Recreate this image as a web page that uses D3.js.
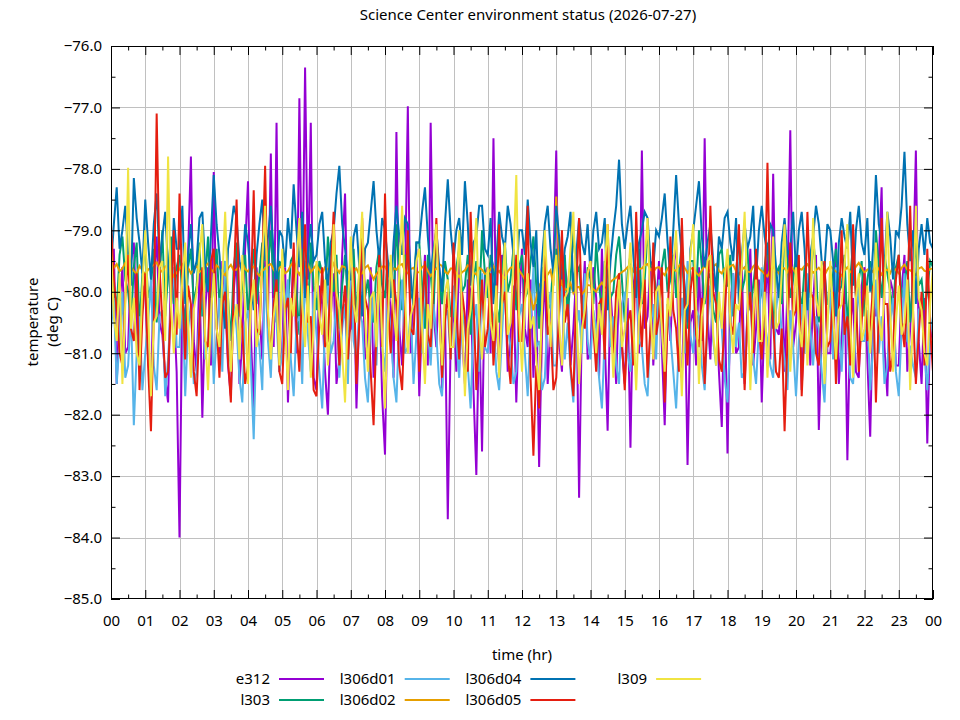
<!DOCTYPE html>
<html>
<head>
<meta charset="utf-8">
<script src="https://cdn.jsdelivr.net/npm/d3@7/dist/d3.min.js"></script>
<style>
  html, body { margin: 0; padding: 0; background: #fff; }
  svg { display: block; }
  text { font-family: "Noto Sans", "Open Sans", sans-serif; }
</style>
</head>
<body>
<svg id="chart" width="960" height="720"></svg>
<script>
// ---------- data (5-minute samples, 00:00 .. 24:00; one row per hour) ----------
const sampleMinutes = 5;
const hourLabels = ["00","01","02","03","04","05","06","07","08","09","10","11","12","13","14","15","16","17","18","19","20","21","22","23","00"];
const yTicks = [-85,-84,-83,-82,-81,-80,-79,-78,-77,-76];
const seriesNames = ["e312","l303","l306d01","l306d02","l306d04","l306d05","l309"];

const e312 = [
-80.4,-79.3,-81.5,-80.2,-79.6,-81.0,-80.9,-79.5,-79.2,-80.6,-81.2,-79.9,
-80.0,-81.1,-81.6,-79.8,-79.1,-80.5,-80.7,-81.4,-81.8,-79.6,-80.2,-81.3,
-84.0,-80.1,-80.5,-79.4,-77.8,-80.8,-81.3,-79.7,-82.05,-80.3,-79.6,-81.2,
-78.05,-80.6,-81.0,-79.5,-80.1,-81.2,-81.7,-80.0,-79.4,-81.5,-80.8,-79.3,
-78.2,-80.7,-81.9,-79.6,-80.3,-81.1,-79.5,-80.4,-77.75,-80.9,-77.25,-81.3,
-80.9,-79.6,-81.8,-80.5,-79.3,-81.0,-76.85,-80.2,-76.35,-79.8,-77.25,-81.4,
-81.6,-79.9,-80.2,-81.3,-82.0,-80.4,-79.7,-81.5,-81.1,-79.4,-78.4,-80.7,
-80.6,-79.5,-81.9,-80.3,-79.2,-81.1,-80.8,-79.6,-81.4,-80.5,-79.9,-81.7,
-82.65,-79.8,-80.3,-81.4,-77.4,-80.6,-81.2,-79.9,-76.98,-81.0,-80.0,-79.3,
-81.7,-80.4,-79.4,-81.2,-77.25,-80.3,-80.9,-79.6,-81.6,-80.2,-83.7,-80.8,
-80.2,-81.3,-79.1,-80.7,-81.5,-79.8,-80.0,-81.6,-82.98,-80.4,-82.6,-79.7,
-79.6,-81.0,-77.5,-80.5,-81.2,-79.4,-79.8,-81.3,-80.7,-79.9,-81.8,-80.3,
-79.3,-80.6,-80.9,-79.8,-81.4,-80.2,-82.85,-80.7,-79.7,-81.5,-80.5,-79.6,
-77.7,-80.8,-81.3,-79.6,-79.9,-81.2,-80.6,-79.7,-83.35,-80.4,-79.5,-81.1,
-81.0,-79.6,-80.1,-81.4,-79.3,-80.8,-82.26,-80.0,-80.7,-81.5,-79.8,-80.9,
-81.5,-80.1,-82.54,-79.9,-79.6,-81.0,-77.7,-80.6,-80.4,-79.5,-81.2,-80.3,
-79.5,-80.9,-82.17,-80.2,-80.8,-79.6,-79.2,-81.1,-81.4,-80.0,-82.82,-80.5,
-80.3,-81.2,-79.6,-80.8,-77.5,-80.4,-81.1,-79.7,-80.0,-81.3,-82.2,-79.9,
-82.63,-80.2,-79.7,-81.0,-80.9,-79.5,-81.5,-80.3,-79.3,-81.2,-80.6,-79.8,
-81.8,-80.4,-79.4,-81.1,-78.08,-80.6,-80.7,-79.5,-81.3,-80.0,-77.37,-80.9,
-80.5,-79.6,-81.6,-80.3,-79.8,-81.2,-80.2,-79.4,-82.25,-80.7,-79.5,-81.0,
-81.0,-80.3,-79.2,-81.5,-80.8,-79.7,-82.74,-80.5,-80.1,-81.3,-81.4,-79.9,
-79.6,-81.1,-82.36,-80.2,-80.4,-79.5,-78.3,-80.9,-81.7,-79.8,-80.0,-81.2,
-81.2,-80.0,-79.4,-81.3,-80.6,-79.7,-77.7,-80.8,-81.5,-80.1,-82.47,-80.6,
-80.8];

const l303 = [
-79.5,-79.9,-80.3,-79.4,-79.1,-79.8,-80.0,-80.5,-79.6,-79.2,-80.6,-79.7,
-79.2,-80.1,-79.9,-79.3,-80.5,-79.8,-79.0,-80.4,-79.7,-79.1,-80.2,-79.6,
-79.4,-80.0,-80.7,-79.6,-79.3,-80.2,-79.9,-79.2,-80.4,-79.8,-79.1,-80.3,
-79.8,-79.3,-80.2,-79.7,-79.5,-80.1,-80.8,-79.6,-79.2,-80.4,-79.9,-79.4,
-80.4,-79.8,-79.3,-80.2,-79.7,-79.2,-80.1,-79.6,-79.0,-79.9,-80.5,-79.5,
-79.6,-80.3,-80.2,-79.5,-79.4,-80.0,-80.7,-79.3,-79.8,-80.4,-79.2,-79.9,
-80.3,-79.5,-79.7,-80.2,-79.1,-79.8,-80.0,-79.4,-80.6,-79.9,-79.4,-80.1,
-79.9,-79.3,-80.4,-79.7,-79.2,-80.1,-79.8,-80.3,-80.5,-79.6,-79.3,-79.9,
-80.1,-79.5,-79.6,-80.2,-78.9,-79.7,-80.3,-79.4,-79.5,-80.1,-80.0,-79.2,
-79.2,-79.9,-80.6,-79.4,-79.7,-80.3,-79.1,-79.8,-80.2,-79.5,-79.8,-80.4,
-80.4,-79.6,-79.3,-80.0,-79.9,-79.4,-80.7,-79.8,-79.5,-80.2,-79.0,-79.7,
-80.1,-79.4,-79.6,-80.2,-80.5,-79.7,-79.2,-80.0,-79.8,-79.3,-80.3,-79.6,
-79.4,-80.1,-80.0,-79.5,-79.1,-79.9,-80.6,-79.6,-79.7,-80.3,-80.2,-79.5,
-79.3,-80.0,-79.9,-79.4,-80.4,-79.8,-79.0,-79.7,-79.6,-80.2,-80.5,-79.6,
-79.8,-80.2,-79.2,-79.9,-80.3,-79.5,-79.7,-80.1,-80.0,-79.4,-79.1,-79.8,
-80.5,-79.7,-79.4,-80.1,-79.9,-79.3,-80.2,-79.8,-79.0,-79.6,-79.6,-80.0,
-80.4,-79.6,-79.3,-80.0,-79.8,-79.4,-80.1,-79.7,-79.2,-80.3,-80.6,-79.5,
-79.5,-80.1,-79.0,-79.6,-80.2,-79.8,-79.7,-80.3,-80.5,-79.4,-79.3,-79.9,
-79.9,-79.4,-80.4,-79.7,-79.1,-80.0,-79.8,-79.3,-80.3,-79.9,-79.5,-80.2,
-80.0,-79.6,-79.2,-79.9,-80.6,-79.7,-79.6,-80.2,-79.0,-79.5,-80.1,-79.8,
-79.4,-79.9,-80.3,-79.6,-79.8,-80.1,-79.1,-79.7,-80.5,-79.9,-79.7,-80.2,
-80.2,-79.7,-79.3,-80.0,-79.9,-79.4,-80.6,-79.8,-79.2,-80.1,-79.8,-79.5,
-80.4,-79.8,-79.5,-80.2,-79.0,-79.6,-80.1,-79.4,-79.7,-80.0,-80.3,-79.6,
-79.4,-80.1,-79.9,-79.5,-80.5,-79.8,-79.2,-79.9,-79.8,-80.3,-80.0,-79.5,
-79.6];

const l306d01 = [
-80.6,-80.1,-81.5,-80.8,-80.0,-81.4,-81.2,-80.3,-82.17,-81.0,-80.4,-81.6,
-81.0,-80.5,-79.8,-81.2,-81.6,-80.4,-80.3,-81.7,-81.1,-80.2,-79.6,-80.9,
-80.9,-80.0,-81.7,-80.6,-80.2,-81.5,-81.3,-80.4,-79.7,-81.1,-80.8,-80.1,
-81.5,-80.7,-80.1,-81.3,-79.5,-80.9,-81.2,-80.2,-80.6,-81.4,-81.8,-80.5,
-80.3,-81.2,-82.4,-80.6,-80.9,-81.6,-79.6,-80.8,-81.4,-80.1,-80.5,-81.3,
-81.0,-80.2,-79.8,-81.1,-81.7,-80.5,-80.4,-81.5,-79.5,-80.7,-81.3,-80.0,
-80.7,-81.3,-81.9,-80.5,-79.9,-81.0,-80.8,-80.1,-81.4,-80.6,-80.2,-81.5,
-79.7,-80.8,-81.1,-80.3,-80.5,-81.4,-81.8,-80.6,-80.0,-81.2,-79.6,-80.9,
-81.3,-80.2,-80.6,-81.4,-81.8,-80.5,-79.8,-81.0,-80.9,-80.3,-81.5,-80.7,
-80.1,-81.0,-79.5,-80.6,-81.2,-80.2,-80.7,-81.5,-81.7,-80.4,-80.3,-81.1,
-79.9,-80.8,-81.4,-80.3,-80.6,-81.2,-81.9,-80.5,-80.2,-81.3,-79.7,-80.9,
-81.0,-80.2,-80.4,-81.3,-81.6,-80.7,-79.8,-80.6,-80.9,-81.5,-81.3,-80.4,
-80.2,-81.0,-81.7,-80.5,-79.6,-80.9,-80.8,-81.6,-81.4,-80.3,-80.0,-81.2,
-81.2,-80.4,-79.9,-81.1,-80.5,-81.3,-81.8,-80.6,-80.3,-81.0,-79.7,-80.8,
-81.1,-80.3,-80.6,-81.4,-81.9,-80.7,-79.8,-80.9,-80.4,-81.2,-81.5,-80.2,
-80.0,-81.0,-81.3,-80.4,-79.6,-80.8,-80.9,-81.5,-81.7,-80.6,-80.2,-81.1,
-79.8,-80.6,-81.4,-80.2,-80.7,-81.3,-81.9,-80.8,-80.1,-81.0,-79.5,-80.7,
-81.0,-80.3,-80.4,-81.2,-81.6,-80.5,-79.9,-80.8,-81.2,-80.2,-80.6,-81.4,
-81.8,-80.7,-79.7,-80.9,-80.5,-81.4,-81.3,-80.4,-80.0,-81.1,-81.5,-80.6,
-79.6,-80.5,-80.8,-81.2,-81.4,-80.3,-79.9,-80.7,-81.1,-81.6,-80.3,-80.9,
-81.7,-80.8,-80.2,-81.0,-79.7,-80.6,-81.2,-80.4,-80.6,-81.3,-81.8,-80.5,
-80.0,-81.1,-79.6,-80.5,-81.3,-80.2,-80.7,-81.4,-81.5,-80.6,-79.9,-80.8,
-80.8,-80.3,-81.6,-80.9,-79.8,-81.0,-80.4,-81.5,-81.2,-80.5,-80.1,-81.3,
-81.7,-80.6,-79.7,-80.8,-80.9,-81.2,-81.4,-80.3,-80.2,-81.0,-81.6,-80.7,
-80.4];

const l306d02 = [
-79.70,-79.61,-79.55,-79.67,-79.62,-79.53,-79.48,-79.60,-79.66,-79.71,-79.58,-79.65,
-79.72,-79.64,-79.60,-79.56,-79.52,-79.63,-79.68,-79.59,-79.57,-79.66,-79.75,-79.69,
-79.63,-79.56,-79.50,-79.61,-79.70,-79.64,-79.58,-79.67,-79.66,-79.59,-79.54,-79.62,
-79.69,-79.57,-79.61,-79.68,-79.73,-79.62,-79.56,-79.65,-79.64,-79.58,-79.52,-79.63,
-79.67,-79.60,-79.59,-79.69,-79.74,-79.66,-79.62,-79.57,-79.55,-79.64,-79.70,-79.61,
-79.58,-79.70,-79.66,-79.57,-79.51,-79.64,-79.72,-79.63,-79.60,-79.55,-79.68,-79.62,
-79.56,-79.65,-79.71,-79.60,-79.63,-79.68,-79.54,-79.62,-79.69,-79.58,-79.60,-79.67,
-79.75,-79.66,-79.62,-79.73,-79.70,-79.61,-79.57,-79.69,-79.80,-79.71,-79.66,-79.59,
-79.59,-79.68,-79.73,-79.62,-79.64,-79.57,-79.55,-79.66,-79.70,-79.63,-79.61,-79.69,
-79.68,-79.60,-79.57,-79.66,-79.74,-79.65,-79.63,-79.55,-79.58,-79.67,-79.71,-79.62,
-79.62,-79.70,-79.76,-79.68,-79.65,-79.57,-79.59,-79.69,-79.72,-79.61,-79.64,-79.71,
-79.70,-79.63,-79.58,-79.69,-79.66,-79.74,-79.78,-79.67,-79.61,-79.59,-79.55,-79.65,
-79.72,-79.80,-79.85,-80.05,-80.30,-80.10,-79.90,-79.83,-79.80,-79.72,-79.65,-79.90,
-78.45,-79.50,-79.88,-79.97,-79.95,-79.86,-80.02,-79.93,-79.92,-80.04,-79.98,-79.89,
-79.90,-79.96,-80.00,-79.91,-79.85,-79.93,-79.94,-79.84,-79.80,-79.77,-79.72,-79.68,
-79.65,-79.60,-79.58,-79.67,-79.70,-79.63,-79.62,-79.57,-79.55,-79.64,-79.68,-79.61,
-79.60,-79.68,-79.73,-79.62,-79.57,-79.64,-79.66,-79.58,-79.52,-79.61,-79.69,-79.63,
-79.61,-79.69,-79.74,-79.65,-79.58,-79.63,-79.67,-79.59,-79.55,-79.66,-79.70,-79.62,
-79.63,-79.58,-79.56,-79.66,-79.72,-79.64,-79.60,-79.67,-79.68,-79.59,-79.54,-79.62,
-79.66,-79.71,-79.75,-79.64,-79.59,-79.66,-79.70,-79.61,-79.62,-79.68,-79.57,-79.63,
-79.71,-79.62,-79.64,-79.58,-79.55,-79.63,-79.69,-79.65,-79.61,-79.67,-79.73,-79.64,
-79.58,-79.63,-79.67,-79.70,-79.74,-79.65,-79.60,-79.68,-79.66,-79.59,-79.53,-79.61,
-79.69,-79.64,-79.62,-79.68,-79.57,-79.63,-79.72,-79.66,-79.64,-79.70,-79.59,-79.65,
-79.70,-79.61,-79.56,-79.64,-79.65,-79.69,-79.73,-79.62,-79.60,-79.66,-79.67,-79.63,
-79.62];

const l306d04 = [
-79.6,-78.9,-78.3,-79.3,-79.0,-78.6,-79.4,-79.9,-78.15,-78.8,-79.2,-79.7,
-78.5,-79.2,-79.8,-78.9,-78.4,-79.5,-79.1,-78.7,-79.6,-80.1,-78.8,-79.3,
-79.3,-78.6,-80.2,-79.4,-78.9,-79.7,-79.5,-78.8,-78.7,-79.6,-80.0,-79.1,
-78.1,-78.9,-79.4,-80.1,-80.6,-79.3,-79.0,-78.6,-78.8,-79.5,-79.7,-78.9,
-79.2,-79.8,-80.3,-79.4,-78.9,-78.5,-79.5,-79.1,-78.6,-79.4,-79.9,-79.0,
-79.1,-79.6,-78.8,-79.3,-78.25,-79.0,-79.6,-78.7,-80.1,-79.4,-78.9,-79.5,
-79.4,-78.9,-78.7,-79.5,-79.9,-79.2,-79.0,-78.4,-77.95,-78.9,-79.3,-79.8,
-79.8,-79.1,-78.9,-79.6,-80.4,-79.3,-79.2,-78.7,-78.2,-79.0,-79.5,-78.8,
-79.0,-79.5,-80.1,-79.2,-78.6,-79.1,-79.4,-78.8,-78.9,-79.7,-80.3,-79.2,
-79.2,-78.7,-78.3,-79.1,-79.7,-79.3,-79.0,-79.6,-80.0,-78.9,-78.17,-79.0,
-79.5,-79.0,-78.8,-79.4,-78.2,-78.9,-79.9,-79.2,-79.1,-78.6,-78.6,-79.3,
-79.4,-78.8,-80.2,-79.5,-78.7,-79.1,-79.3,-78.6,-78.9,-79.4,-79.8,-79.0,
-79.0,-79.4,-78.5,-79.2,-79.6,-79.0,-80.4,-79.5,-78.9,-78.6,-79.3,-79.7,
-78.6,-79.1,-79.8,-79.3,-79.1,-78.7,-80.0,-79.4,-78.8,-79.2,-79.4,-78.9,
-79.7,-79.0,-78.7,-79.3,-79.2,-78.8,-80.3,-79.5,-79.0,-78.6,-77.85,-78.9,
-79.3,-78.9,-78.6,-79.4,-80.1,-79.2,-79.0,-78.7,-78.8,-79.5,-79.6,-79.0,
-79.1,-78.8,-78.4,-79.2,-79.8,-79.0,-78.1,-78.9,-79.4,-79.9,-80.5,-79.3,
-79.0,-78.6,-78.2,-79.1,-79.6,-79.2,-78.9,-79.5,-80.0,-79.1,-79.3,-78.8,
-78.7,-79.2,-79.5,-78.8,-80.2,-79.4,-78.9,-79.3,-79.1,-78.6,-79.8,-79.0,
-78.6,-79.1,-79.4,-78.9,-79.0,-79.6,-80.1,-79.2,-78.8,-79.4,-79.3,-78.7,
-79.7,-79.0,-78.7,-79.3,-80.3,-79.4,-79.1,-78.6,-78.9,-79.5,-79.6,-78.9,
-79.0,-79.5,-80.4,-79.2,-78.8,-79.1,-79.3,-78.7,-79.9,-79.0,-78.6,-79.2,
-79.4,-78.8,-80.0,-79.3,-78.1,-78.9,-79.2,-79.6,-78.7,-79.1,-79.8,-79.0,
-79.1,-78.6,-77.72,-78.9,-79.5,-79.0,-80.2,-79.3,-78.9,-79.4,-78.8,-79.2,
-79.3];

const l306d05 = [
-78.9,-79.8,-80.3,-81.0,-81.2,-80.1,-79.4,-80.6,-80.8,-79.7,-81.6,-80.4,
-79.7,-81.2,-82.27,-80.4,-77.1,-79.6,-80.5,-81.4,-81.3,-80.2,-79.0,-80.7,
-78.4,-80.0,-81.1,-79.9,-80.2,-81.3,-81.7,-80.5,-79.6,-80.8,-80.9,-79.5,
-79.3,-80.5,-81.4,-80.2,-80.0,-81.1,-81.8,-79.9,-78.5,-80.3,-80.6,-81.5,
-81.2,-80.1,-78.35,-80.6,-80.7,-79.5,-77.95,-80.4,-81.0,-80.2,-79.8,-81.3,
-81.5,-80.3,-80.1,-81.0,-79.2,-80.6,-81.3,-79.9,-78.9,-80.5,-80.4,-81.6,
-81.7,-80.5,-79.6,-80.9,-80.8,-79.7,-78.7,-80.2,-81.2,-80.4,-79.9,-81.1,
-80.4,-79.6,-81.5,-80.5,-78.8,-80.1,-80.3,-81.3,-82.17,-80.6,-79.4,-80.9,
-78.4,-80.2,-81.0,-79.8,-80.2,-81.2,-81.6,-80.3,-79.0,-80.6,-80.7,-79.6,
-81.3,-80.4,-79.5,-80.7,-80.9,-79.8,-78.8,-80.2,-81.4,-80.5,-80.0,-81.1,
-79.2,-80.3,-81.1,-80.0,-80.4,-81.3,-78.7,-80.1,-81.6,-80.6,-79.8,-80.9,
-80.6,-79.7,-81.2,-80.4,-78.9,-80.2,-80.0,-81.0,-81.5,-80.3,-79.4,-80.8,
-80.8,-79.9,-78.6,-81.4,-82.67,-81.2,-81.9,-80.3,-79.3,-80.7,-80.5,-81.6,
-81.4,-80.3,-79.0,-80.5,-80.2,-81.2,-81.7,-80.0,-78.8,-80.4,-80.6,-79.7,
-79.5,-80.6,-81.3,-80.2,-80.1,-81.1,-78.9,-80.4,-81.0,-80.0,-79.7,-80.8,
-81.6,-80.5,-80.3,-81.2,-78.7,-80.1,-80.9,-79.8,-81.4,-80.6,-79.2,-80.7,
-80.4,-79.6,-81.8,-80.5,-79.1,-80.3,-80.6,-81.3,-78.8,-80.2,-81.2,-80.0,
-79.6,-80.7,-80.9,-80.1,-81.5,-80.4,-78.6,-80.0,-80.2,-81.1,-81.3,-80.5,
-79.4,-80.5,-80.7,-79.8,-78.9,-80.3,-81.6,-80.4,-80.0,-81.0,-79.3,-80.6,
-81.1,-80.2,-77.9,-80.0,-80.5,-81.3,-81.4,-80.6,-82.27,-80.8,-79.2,-80.4,
-80.3,-79.4,-81.7,-80.6,-78.7,-80.0,-80.1,-81.0,-81.2,-80.2,-79.5,-80.9,
-80.8,-80.0,-81.5,-80.3,-79.0,-80.7,-80.4,-81.2,-78.9,-80.1,-81.3,-80.5,
-79.7,-80.8,-80.6,-79.9,-81.8,-80.4,-78.8,-80.2,-80.2,-81.3,-81.0,-79.8,
-79.4,-80.5,-80.9,-80.1,-78.6,-80.3,-81.5,-80.7,-80.0,-81.2,-79.3,-80.6,
-81.3];

const l309 = [
-79.3,-80.4,-80.8,-79.7,-81.5,-80.2,-77.98,-80.6,-80.1,-81.0,-81.2,-79.9,
-79.0,-80.3,-81.7,-80.5,-80.4,-79.6,-79.5,-80.8,-77.8,-80.2,-81.0,-80.1,
-80.6,-79.8,-79.2,-80.5,-81.4,-80.3,-80.0,-79.4,-78.9,-80.7,-81.6,-80.4,
-79.7,-80.6,-80.9,-79.8,-78.7,-80.1,-81.3,-80.5,-80.2,-81.1,-79.4,-80.3,
-81.5,-80.2,-79.8,-80.9,-80.6,-79.5,-78.6,-80.3,-81.1,-80.4,-80.0,-81.2,
-79.3,-80.5,-81.6,-80.1,-80.4,-79.6,-78.8,-80.2,-80.9,-79.9,-81.4,-80.6,
-79.5,-80.4,-80.7,-79.8,-81.2,-80.5,-78.9,-80.0,-80.3,-81.0,-81.8,-80.3,
-79.1,-80.2,-80.5,-79.6,-78.7,-80.4,-81.3,-80.1,-80.0,-80.9,-79.6,-80.7,
-81.9,-80.5,-79.4,-80.3,-80.8,-79.7,-78.6,-80.1,-81.0,-80.4,-80.2,-79.5,
-79.3,-80.6,-81.5,-80.2,-80.6,-79.5,-78.9,-80.4,-81.2,-80.0,-79.8,-80.9,
-80.9,-80.1,-79.0,-80.4,-81.7,-80.6,-80.3,-79.6,-78.8,-80.5,-81.1,-80.2,
-79.6,-80.5,-80.8,-79.9,-81.4,-80.2,-79.2,-80.7,-80.5,-79.5,-78.1,-80.4,
-81.3,-80.2,-79.7,-80.6,-80.4,-81.1,-81.6,-80.3,-79.0,-80.0,-80.9,-79.8,
-79.4,-80.5,-81.2,-80.1,-80.0,-79.3,-78.7,-80.2,-81.5,-80.6,-80.3,-79.7,
-79.5,-80.4,-81.0,-80.2,-80.7,-79.6,-78.9,-80.3,-81.4,-80.5,-79.8,-80.9,
-80.6,-79.9,-79.2,-80.5,-81.6,-80.4,-80.1,-79.5,-78.8,-80.3,-81.1,-80.0,
-79.9,-80.6,-81.3,-80.1,-80.4,-79.6,-79.0,-80.5,-81.7,-80.3,-80.2,-79.4,
-78.9,-80.2,-81.5,-80.4,-80.1,-79.5,-79.4,-80.7,-81.2,-80.0,-80.6,-79.8,
-79.3,-80.5,-81.0,-80.2,-80.3,-79.6,-78.7,-80.1,-81.6,-80.4,-79.8,-80.8,
-80.8,-80.0,-81.4,-80.3,-79.1,-80.6,-80.5,-79.7,-78.9,-80.2,-81.3,-80.4,
-79.6,-80.5,-80.9,-80.0,-81.2,-80.3,-78.8,-80.1,-80.4,-79.5,-81.5,-80.6,
-79.5,-80.4,-81.1,-80.3,-80.2,-79.6,-78.9,-80.5,-81.4,-80.1,-79.7,-80.8,
-80.6,-79.9,-81.0,-80.2,-79.2,-80.4,-80.8,-80.0,-78.7,-80.3,-81.3,-80.5,
-79.9,-80.7,-80.5,-79.8,-81.6,-80.4,-78.6,-80.1,-80.3,-81.0,-81.2,-80.2,
-79.6];

const seriesValues = [e312, l303, l306d01, l306d02, l306d04, l306d05, l309];
const seriesColors = ["#9400d3","#009e73","#56b4e9","#e69f00","#0072b2","#e51e10","#f0e442"];

// ---------- layout ----------
const svg = d3.select("#chart");
const L = 111, R = 933, T = 46, B = 599;
const x = d3.scaleLinear().domain([0, 24]).range([L, R]);
const y = d3.scaleLinear().domain([-85, -76]).range([B, T]);
const FONT = 15;

svg.append("rect").attr("width", 960).attr("height", 720).attr("fill", "#fff");

// grid
const majorHours = d3.range(0, 25);
const gridG = svg.append("g").attr("stroke", "#c0c0c0").attr("stroke-width", 1);
gridG.selectAll("line.gx").data(majorHours.slice(1, -1)).join("line")
  .attr("x1", d => Math.round(x(d)) + 0.5).attr("x2", d => Math.round(x(d)) + 0.5)
  .attr("y1", T).attr("y2", B);
gridG.selectAll("line.gy").data(yTicks.slice(1, -1)).join("line")
  .attr("y1", d => Math.round(y(d)) + 0.5).attr("y2", d => Math.round(y(d)) + 0.5)
  .attr("x1", L).attr("x2", R);

// clip
svg.append("clipPath").attr("id", "clip").append("rect")
  .attr("x", L).attr("y", T).attr("width", R - L).attr("height", B - T);

const line = d3.line()
  .x((d, i) => x(i * sampleMinutes / 60))
  .y(d => y(d));

const linesG = svg.append("g").attr("clip-path", "url(#clip)");
seriesValues.forEach((vals, k) => {
  linesG.append("path")
    .datum(vals)
    .attr("fill", "none")
    .attr("stroke", seriesColors[k])
    .attr("stroke-width", 2)
    .attr("stroke-linejoin", "miter")
    .attr("d", line);
});

// axes (gnuplot-style inward ticks, mirrored)
const halfHours = d3.range(0.5, 24, 1);
const halfDeg = d3.range(-84.5, -76, 1);

function styleAxis(g) {
  g.select(".domain").remove();
  g.selectAll(".tick line").attr("stroke", "#000");
  g.selectAll("text").attr("font-size", FONT).attr("fill", "#000")
    .attr("font-family", '"Noto Sans", "Open Sans", sans-serif');
}

svg.append("g").attr("transform", `translate(0,${B})`)
  .call(d3.axisBottom(x).tickValues(majorHours).tickFormat(d => hourLabels[d]).tickSize(-9).tickPadding(16))
  .call(styleAxis);
svg.append("g").attr("transform", `translate(0,${B})`)
  .call(d3.axisBottom(x).tickValues(halfHours).tickFormat("").tickSize(-4.5))
  .call(styleAxis);
svg.append("g").attr("transform", `translate(0,${T})`)
  .call(d3.axisTop(x).tickValues(majorHours).tickFormat("").tickSize(-9))
  .call(styleAxis);
svg.append("g").attr("transform", `translate(0,${T})`)
  .call(d3.axisTop(x).tickValues(halfHours).tickFormat("").tickSize(-4.5))
  .call(styleAxis);

svg.append("g").attr("transform", `translate(${L},0)`)
  .call(d3.axisLeft(y).tickValues(yTicks).tickFormat(d3.format(".1f")).tickSize(-9).tickPadding(9))
  .call(styleAxis);
svg.append("g").attr("transform", `translate(${L},0)`)
  .call(d3.axisLeft(y).tickValues(halfDeg).tickFormat("").tickSize(-4.5))
  .call(styleAxis);
svg.append("g").attr("transform", `translate(${R},0)`)
  .call(d3.axisRight(y).tickValues(yTicks).tickFormat("").tickSize(-9))
  .call(styleAxis);
svg.append("g").attr("transform", `translate(${R},0)`)
  .call(d3.axisRight(y).tickValues(halfDeg).tickFormat("").tickSize(-4.5))
  .call(styleAxis);

// border
svg.append("rect").attr("x", L + 0.5).attr("y", T + 0.5)
  .attr("width", R - L - 1).attr("height", B - T - 1)
  .attr("fill", "none").attr("stroke", "#000").attr("stroke-width", 1);

// title & labels
svg.append("text").attr("x", 528).attr("y", 15).attr("dy", "0.35em")
  .attr("text-anchor", "middle").attr("font-size", FONT).attr("fill", "#000")
  .text("Science Center environment status (2026-07-27)");

svg.append("text").attr("x", 522).attr("y", 655).attr("dy", "0.35em")
  .attr("text-anchor", "middle").attr("font-size", FONT).attr("fill", "#000")
  .text("time (hr)");

const yl = svg.append("text").attr("transform", "translate(38,322) rotate(-90)")
  .attr("text-anchor", "middle").attr("font-size", FONT).attr("fill", "#000");
yl.append("tspan").attr("x", 0).attr("dy", "0em").text("temperature");
yl.append("tspan").attr("x", 0).attr("dy", "1.3em").text("(deg C)");

// legend
const legendRows = 2, colW = 125.7, textRight0 = 270, rowY = [679, 700];
seriesNames.forEach((name, k) => {
  const col = Math.floor(k / legendRows), row = k % legendRows;
  const tx = textRight0 + col * colW;
  svg.append("text").attr("x", tx).attr("y", rowY[row]).attr("dy", "0.35em")
    .attr("text-anchor", "end").attr("font-size", FONT).attr("fill", "#000").text(name);
  svg.append("line").attr("x1", tx + 9).attr("x2", tx + 54)
    .attr("y1", rowY[row]).attr("y2", rowY[row])
    .attr("stroke", seriesColors[k]).attr("stroke-width", 2);
});
</script>
</body>
</html>
